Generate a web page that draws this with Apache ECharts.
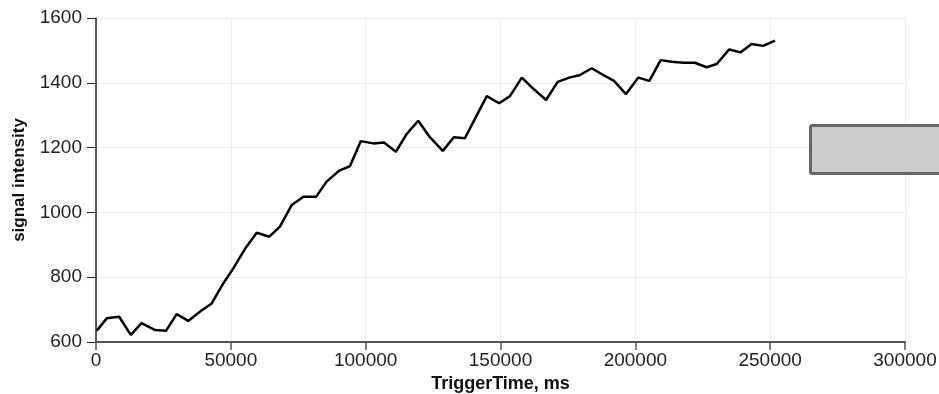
<!DOCTYPE html>
<html>
<head>
<meta charset="utf-8">
<script src="https://cdn.jsdelivr.net/npm/echarts@6/dist/echarts.min.js"></script>
<style>
  html, body { margin: 0; padding: 0; background: #fff; }
  #chart { width: 939px; height: 394px; }
</style>
</head>
<body>
<div id="chart"></div>
<script>
// trigger time (ms) and signal intensity
var triggerTime = [
  300, 4000, 8600, 12900, 16900, 21900, 26000, 29900, 34200, 38600,
  42900, 47200, 50900, 55600, 59600, 64300, 68200, 72600, 76900, 81600,
  85500, 90200, 94200, 98200, 102800, 106800, 111200, 115200, 119500, 123800,
  128600, 132700, 136800, 140900, 144900, 149500, 153500, 157900, 162400, 166900,
  171200, 175500, 179500, 183800, 188100, 192100, 196500, 201100, 205200, 209400,
  213500, 217800, 222100, 226400, 230200, 234800, 239100, 243100, 247400, 251800
]
var signalIntensity = [
  635, 673, 678, 622, 658, 637, 635, 686, 665, 694,
  719, 781, 827, 892, 937, 925, 956, 1023, 1048, 1048,
  1095, 1129, 1143, 1220, 1213, 1216, 1187, 1242, 1283, 1232,
  1190, 1232, 1229, 1295, 1359, 1337, 1359, 1416, 1380, 1347,
  1403, 1416, 1424, 1445, 1424, 1406, 1365, 1416, 1406, 1470,
  1465, 1462, 1462, 1448, 1458, 1503, 1494, 1520, 1514, 1530
]

var labelFont = 'Liberation Sans'
var plain = function (v) { return String(v) }

var chart = echarts.init(document.getElementById('chart'), null, { renderer: 'canvas' })
var option = {
  animation: false,
  grid: { left: 96, right: 34, top: 18, bottom: 52, containLabel: false, outerBoundsMode: 'none' },
  xAxis: {
    type: 'value',
    min: 0,
    max: 300000,
    interval: 50000,
    name: 'TriggerTime, ms',
    nameLocation: 'middle',
    nameGap: 32,
    nameTextStyle: { fontFamily: labelFont, fontWeight: 'bold', fontSize: 18, color: '#111' },
    axisLine: { onZero: false, lineStyle: { color: '#555', width: 2 } },
    axisTick: { show: true, length: 8, lineStyle: { color: '#555', width: 1.5 } },
    axisLabel: { fontFamily: labelFont, fontSize: 19, color: '#222', margin: 9, formatter: plain },
    splitLine: { show: true, lineStyle: { color: '#ececec', width: 1 } }
  },
  yAxis: {
    type: 'value',
    min: 600,
    max: 1600,
    interval: 200,
    name: 'signal intensity',
    nameLocation: 'middle',
    nameRotate: 90,
    nameGap: 68,
    nameTextStyle: { fontFamily: labelFont, fontWeight: 'bold', fontSize: 17, color: '#111' },
    axisLine: { show: true, lineStyle: { color: '#222', width: 1.5 } },
    axisTick: { show: true, length: 9, lineStyle: { color: '#222', width: 1 } },
    axisLabel: { fontFamily: labelFont, fontSize: 19, color: '#222', margin: 14, formatter: plain },
    splitLine: { show: true, lineStyle: { color: '#ececec', width: 1 } }
  },
  series: [
    {
      type: 'line',
      data: triggerTime.map(function (t, i) { return [t, signalIntensity[i]] }),
      showSymbol: false,
      lineStyle: { color: '#000', width: 2.5 }
    }
  ],
  graphic: [
    {
      type: 'rect',
      z: 100,
      left: 809,
      top: 124,
      shape: { width: 160, height: 48, r: 2 },
      style: { fill: '#cccccc', stroke: '#666', lineWidth: 3 }
    }
  ]
}
chart.setOption(option)
</script>
</body>
</html>
